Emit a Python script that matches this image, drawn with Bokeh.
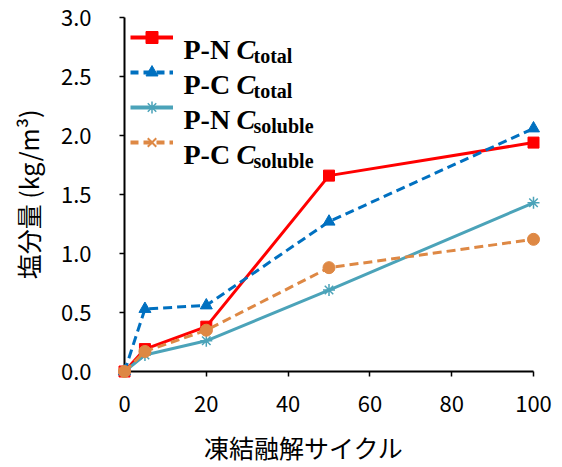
from bokeh.plotting import figure
from bokeh.models import (Range1d, FixedTicker, PrintfTickFormatter, Legend, LegendItem, Label)
from bokeh.core.properties import value
from bokeh.embed import file_html
from bokeh.resources import INLINE

# ---- data ----
cycles = [0, 5, 20, 50, 100]
pn_total = [0.0, 0.19, 0.38, 1.66, 1.94]
pc_total = [0.0, 0.53, 0.56, 1.27, 2.06]
pn_soluble = [0.0, 0.14, 0.26, 0.69, 1.43]
pc_soluble = [0.0, 0.17, 0.35, 0.88, 1.12]

x_ticks = [0, 20, 40, 60, 80, 100]
y_ticks = [0.0, 0.5, 1.0, 1.5, 2.0, 2.5, 3.0]

series_prefix = ["P-N", "P-C", "P-N", "P-C"]
series_sub = ["total", "total", "soluble", "soluble"]

x_title = "凍結融解サイクル"
y_title = "塩分量 (kg/m³)"

RED = "#FF0000"
BLUE = "#0070C0"
TEAL = "#4BA3B9"
ORANGE = "#DE8844"

JP = "Noto Sans CJK JP"
SERIF = "Liberation Serif"

p = figure(width=560, height=467, output_backend="svg", toolbar_location=None,
           x_range=Range1d(0, 100), y_range=Range1d(0, 3.0),
           min_border_left=124, min_border_right=27, min_border_top=17, min_border_bottom=96,
           background_fill_color="white", border_fill_color="white")
p.outline_line_color = None
p.grid.visible = False

# axes
xa = p.xaxis[0]
ya = p.yaxis[0]
xa.ticker = FixedTicker(ticks=x_ticks)
ya.ticker = FixedTicker(ticks=y_ticks)
ya.formatter = PrintfTickFormatter(format="%.1f")
for ax in (xa, ya):
    ax.axis_line_color = "black"
    ax.axis_line_width = 2
    ax.major_tick_line_color = "black"
    ax.major_tick_line_width = 1.5
    ax.major_tick_out = 5
    ax.major_tick_in = 0
    ax.minor_tick_line_color = None
    ax.major_label_text_font = JP
    ax.major_label_text_font_size = "22px"
    ax.major_label_text_color = "black"
    ax.axis_label_text_font = JP
    ax.axis_label_text_font_size = "25px"
    ax.axis_label_text_font_style = "normal"
    ax.axis_label_text_color = "black"
xa.major_label_standoff = 19
ya.major_label_standoff = 28
xa.axis_label = x_title + "\u3000\u3000"
ya.axis_label = y_title
xa.axis_label_standoff = 14
ya.axis_label_standoff = 12

# series (overlay level so markers at the axis edges are not clipped)
r_red_l = p.line(cycles, pn_total, line_color=RED, line_width=3)
r_red_m = p.scatter(cycles, pn_total, marker="square", size=11, color=RED)
r_blue_l = p.line(cycles, pc_total, line_color=BLUE, line_width=3, line_dash="9 5")
r_blue_m = p.scatter(cycles, pc_total, marker="triangle", size=12, color=BLUE)
r_teal_l = p.line(cycles, pn_soluble, line_color=TEAL, line_width=3)
r_teal_m = p.scatter(cycles, pn_soluble, marker="asterisk", size=12, line_color=TEAL, line_width=1.5)
r_or_l = p.line(cycles, pc_soluble, line_color=ORANGE, line_width=3, line_dash="9 5")
r_or_m = p.scatter(cycles, pc_soluble, marker="circle", size=12, color=ORANGE)
for r in (r_red_l, r_red_m, r_blue_l, r_blue_m, r_teal_l, r_teal_m, r_or_l, r_or_m):
    r.level = "overlay"

# legend-only (hidden) renderers: slightly thicker sample lines, 'x' marker for P-C soluble
lg_red = p.line(cycles, pn_total, line_color=RED, line_width=4, visible=False)
lg_blue = p.line(cycles, pc_total, line_color=BLUE, line_width=4, line_dash="8 5", visible=False)
lg_teal = p.line(cycles, pn_soluble, line_color=TEAL, line_width=4, visible=False)
lg_or = p.line(cycles, pc_soluble, line_color=ORANGE, line_width=4, line_dash="8 5", visible=False)
lg_or_x = p.scatter(cycles, pc_soluble, marker="x", size=12, line_color=ORANGE, line_width=2, visible=False)

legend = Legend(items=[
    LegendItem(label=value(" "), renderers=[lg_red, r_red_m]),
    LegendItem(label=value(" "), renderers=[lg_blue, r_blue_m]),
    LegendItem(label=value(" "), renderers=[lg_teal, r_teal_m]),
    LegendItem(label=value(" "), renderers=[lg_or, lg_or_x]),
], location=(6, 214), glyph_width=43, glyph_height=30, label_height=30, spacing=5,
   padding=0, margin=0, border_line_color=None, background_fill_alpha=0,
   label_text_font_size="1px", label_standoff=0, label_width=1)
p.add_layout(legend)

# legend texts (frame-relative screen units)
base_top = 32.0
pitch = 35
for i in range(4):
    yb = 354 - (base_top + i * pitch)
    p.add_layout(Label(x=59, y=yb, x_units="screen", y_units="screen", text=series_prefix[i],
                       text_font=SERIF, text_font_style="bold", text_font_size="28px",
                       text_baseline="alphabetic", text_color="black"))
    p.add_layout(Label(x=112, y=yb, x_units="screen", y_units="screen", text="C",
                       text_font=SERIF, text_font_style="bold italic", text_font_size="28px",
                       text_baseline="alphabetic", text_color="black"))
    p.add_layout(Label(x=129, y=yb - 6, x_units="screen", y_units="screen", text=series_sub[i],
                       text_font=SERIF, text_font_style="bold", text_font_size="20px",
                       text_baseline="alphabetic", text_color="black"))

open("out.html", "w").write(file_html(p, INLINE))
